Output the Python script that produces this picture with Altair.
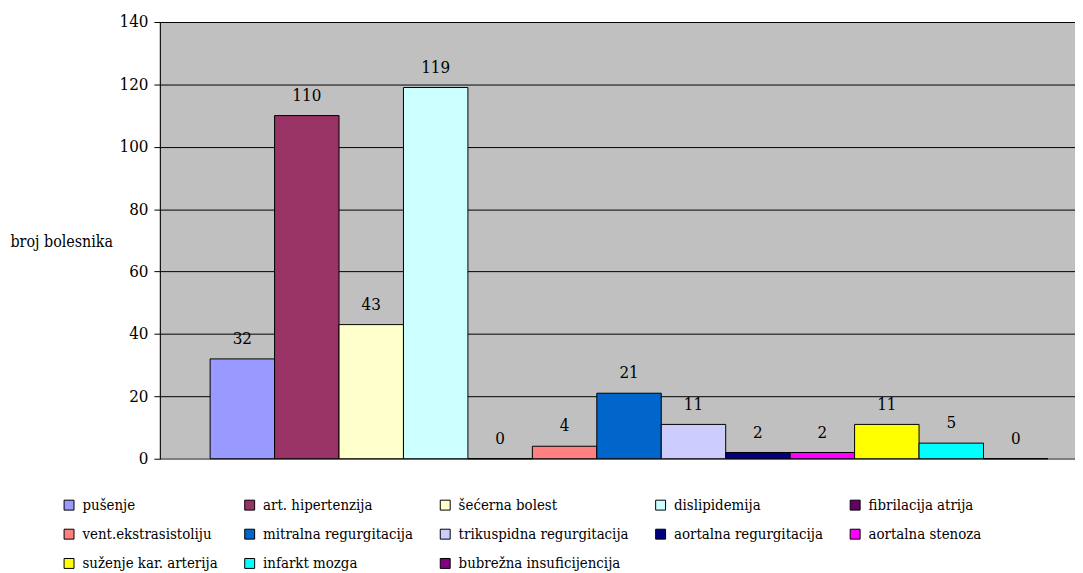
import altair as alt
import pandas as pd

categories = [
    "pušenje", "art. hipertenzija", "šećerna bolest", "dislipidemija",
    "fibrilacija atrija", "vent.ekstrasistoliju", "mitralna regurgitacija",
    "trikuspidna regurgitacija", "aortalna regurgitacija", "aortalna stenoza",
    "suženje kar. arterija", "infarkt mozga", "bubrežna  insuficijencija",
]
values = [32, 110, 43, 119, 0, 4, 21, 11, 2, 2, 11, 5, 0]
colors = [
    "#9999FF", "#993366", "#FFFFCC", "#CCFFFF", "#660066", "#FF8080", "#0066CC",
    "#CCCCFF", "#000080", "#FF00FF", "#FFFF00", "#00FFFF", "#800080",
]

df = pd.DataFrame({"kat": categories, "broj": values})

FONT = "DejaVu Serif Condensed"

x = alt.X(
    "kat:N",
    sort=categories,
    scale=alt.Scale(paddingInner=0, paddingOuter=0.6, align=0.65),
    axis=alt.Axis(labels=False, ticks=False, title=None, domainColor="#808080",
                  domainWidth=1.5),
)
y = alt.Y(
    "broj:Q",
    scale=alt.Scale(domain=[0, 140]),
    axis=alt.Axis(
        values=[0, 20, 40, 60, 80, 100, 120, 140],
        title="broj bolesnika", titleAngle=0, titleAlign="left",
        titleBaseline="middle", titleX=-151, titleY=221,
        titleFont=FONT, titleFontSize=16, titleFontWeight="normal", titleColor="black",
        labelFont=FONT, labelFontSize=17, labelColor="black", labelPadding=6,
        tickColor="black", tickSize=6, domainColor="black",
        grid=True, gridColor="black", gridWidth=1,
    ),
)

bars = alt.Chart(df).mark_bar(stroke="black", strokeWidth=1).encode(
    x=x,
    y=y,
    color=alt.Color(
        "kat:N",
        sort=categories,
        scale=alt.Scale(domain=categories, range=colors),
        legend=alt.Legend(
            title=None, orient="none", legendX=-99, legendY=479, columns=5,
            direction="horizontal",
            symbolType="square", symbolSize=100, symbolStrokeColor="black",
            symbolStrokeWidth=1, labelFont=FONT, labelFontSize=15,
            labelColor="black", labelOffset=6, rowPadding=13.5, columnPadding=24,
            labelLimit=300, padding=0,
        ),
    ),
)

labels = alt.Chart(df).mark_text(
    font=FONT, fontSize=17, color="black", baseline="middle", dy=-20
).encode(x=x, y=y, text="broj:Q")

chart = (
    (bars + labels)
    .properties(
        width=922, height=440,
        autosize=alt.AutoSizeParams(type="none"),
        padding={"left": 153, "top": 12, "right": 0, "bottom": 112},
    )
    .configure(background="white")
    .configure_view(fill="#C0C0C0", stroke="#808080", strokeWidth=1)
)

chart.save("out.html", embed_options={"renderer": "svg", "actions": False})
